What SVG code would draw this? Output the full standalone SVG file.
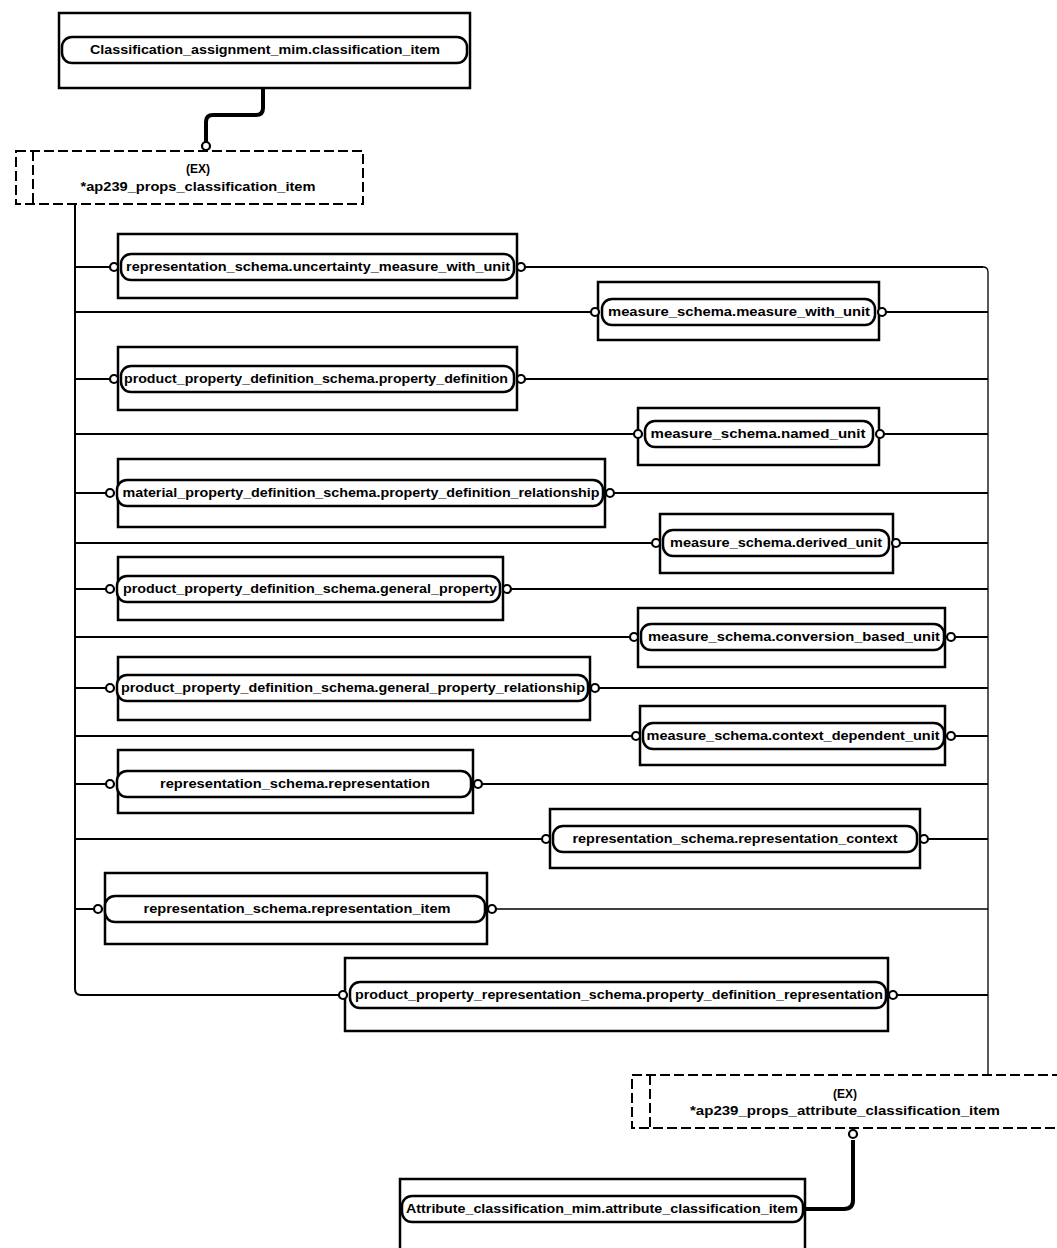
<svg xmlns="http://www.w3.org/2000/svg" width="1057" height="1248" viewBox="0 0 1057 1248">
<style>
.box{fill:none;stroke:#000;stroke-width:2.5}
.pill{fill:#fff;stroke:#000;stroke-width:2.5}
.ext{fill:#fff;stroke:#000;stroke-width:2;stroke-dasharray:10 4}
.t{font-family:"Liberation Sans",Arial,sans-serif;font-weight:bold;font-size:12px;fill:#000}
.c{fill:none;stroke:#000;stroke-width:2}
.thin{fill:none;stroke:#000;stroke-width:1.3}
.thick{fill:none;stroke:#000;stroke-width:4}
.end{fill:#fff;stroke:#000;stroke-width:2.2}
</style>
<rect width="1057" height="1248" fill="#fff"/>
<g id="connectors">
<path class="thick" d="M263 88 V108 Q263 115 256 115 H213 Q206 115 206 122 V142"/>
<path class="c" d="M75 204 V989 Q75 995 81 995 H344"/>
<path class="thin" d="M988 1075 V272 Q988 267 983 267"/>
<path class="c" d="M526 267 H983"/>
<path class="c" d="M75 312 H590"/><path class="c" d="M887 312 H988"/>
<path class="c" d="M75 379 H109"/><path class="c" d="M526 379 H988"/>
<path class="c" d="M75 434 H633"/><path class="c" d="M885 434 H988"/>
<path class="c" d="M75 493 H105"/><path class="c" d="M615 493 H988"/>
<path class="c" d="M75 543 H651"/><path class="c" d="M901 543 H988"/>
<path class="c" d="M75 589 H105"/><path class="c" d="M512 589 H988"/>
<path class="c" d="M75 637 H629"/><path class="c" d="M956 637 H988"/>
<path class="c" d="M75 688 H105"/><path class="c" d="M600 688 H988"/>
<path class="c" d="M75 736 H631"/><path class="c" d="M956 736 H988"/>
<path class="c" d="M75 784 H105"/><path class="c" d="M483 784 H988"/>
<path class="c" d="M75 839 H541"/><path class="c" d="M929 839 H988"/>
<path class="c" d="M75 909 H93"/><path class="thin" d="M497 909 H988"/>
<path class="c" d="M898 995 H988"/>
<path class="c" d="M75 267 H109"/>
<path class="thick" d="M853 1140 V1200 Q853 1209 844 1209 H806"/>
<circle class="end" cx="206" cy="146" r="4"/>
<circle class="end" cx="853" cy="1134" r="4"/>
</g>
<g id="n_classification_item">
<rect class="box" x="59" y="13" width="411" height="75"/>
<rect class="pill" x="62" y="37" width="405" height="26" rx="10"/>
<text class="t" x="265" y="54" text-anchor="middle" textLength="350" lengthAdjust="spacingAndGlyphs">Classification_assignment_mim.classification_item</text>
</g>
<g id="n_ext1">
<rect class="ext" x="16" y="151" width="347" height="53"/>
<line class="ext" x1="33" y1="151" x2="33" y2="204"/>
<text class="t" x="198" y="173" text-anchor="middle">(EX)</text>
<text class="t" x="198" y="191" text-anchor="middle" textLength="235" lengthAdjust="spacingAndGlyphs">*ap239_props_classification_item</text>
</g>
<g id="n1">
<rect class="box" x="118" y="234" width="399" height="64"/>
<rect class="pill" x="121" y="254" width="393" height="26" rx="10"/>
<circle class="end" cx="114" cy="267" r="4"/><circle class="end" cx="521" cy="267" r="4"/>
<text class="t" x="318" y="271" text-anchor="middle" textLength="384" lengthAdjust="spacingAndGlyphs">representation_schema.uncertainty_measure_with_unit</text>
</g>
<g id="n2">
<rect class="box" x="598" y="282" width="281" height="58"/>
<rect class="pill" x="602" y="299" width="273" height="26" rx="10"/>
<circle class="end" cx="595" cy="312" r="4"/><circle class="end" cx="882" cy="312" r="4"/>
<text class="t" x="739" y="316" text-anchor="middle" textLength="262" lengthAdjust="spacingAndGlyphs">measure_schema.measure_with_unit</text>
</g>
<g id="n3">
<rect class="box" x="118" y="347" width="399" height="63"/>
<rect class="pill" x="121" y="366" width="393" height="26" rx="10"/>
<circle class="end" cx="114" cy="379" r="4"/><circle class="end" cx="521" cy="379" r="4"/>
<text class="t" x="316" y="383" text-anchor="middle" textLength="384" lengthAdjust="spacingAndGlyphs">product_property_definition_schema.property_definition</text>
</g>
<g id="n4">
<rect class="box" x="638" y="408" width="241" height="57"/>
<rect class="pill" x="645" y="421" width="228" height="26" rx="10"/>
<circle class="end" cx="638" cy="434" r="4"/><circle class="end" cx="880" cy="434" r="4"/>
<text class="t" x="758" y="438" text-anchor="middle" textLength="215" lengthAdjust="spacingAndGlyphs">measure_schema.named_unit</text>
</g>
<g id="n5">
<rect class="box" x="118" y="459" width="487" height="68"/>
<rect class="pill" x="117" y="480" width="486" height="26" rx="10"/>
<circle class="end" cx="110" cy="493" r="4"/><circle class="end" cx="610" cy="493" r="4"/>
<text class="t" x="361" y="497" text-anchor="middle" textLength="477" lengthAdjust="spacingAndGlyphs">material_property_definition_schema.property_definition_relationship</text>
</g>
<g id="n6">
<rect class="box" x="660" y="514" width="233" height="59"/>
<rect class="pill" x="663" y="530" width="226" height="26" rx="10"/>
<circle class="end" cx="656" cy="543" r="4"/><circle class="end" cx="896" cy="543" r="4"/>
<text class="t" x="776" y="547" text-anchor="middle" textLength="212" lengthAdjust="spacingAndGlyphs">measure_schema.derived_unit</text>
</g>
<g id="n7">
<rect class="box" x="118" y="557" width="385" height="63"/>
<rect class="pill" x="117" y="576" width="383" height="26" rx="10"/>
<circle class="end" cx="110" cy="589" r="4"/><circle class="end" cx="507" cy="589" r="4"/>
<text class="t" x="310" y="593" text-anchor="middle" textLength="374" lengthAdjust="spacingAndGlyphs">product_property_definition_schema.general_property</text>
</g>
<g id="n8">
<rect class="box" x="638" y="608" width="307" height="59"/>
<rect class="pill" x="641" y="624" width="303" height="26" rx="10"/>
<circle class="end" cx="634" cy="637" r="4"/><circle class="end" cx="951" cy="637" r="4"/>
<text class="t" x="794" y="641" text-anchor="middle" textLength="292" lengthAdjust="spacingAndGlyphs">measure_schema.conversion_based_unit</text>
</g>
<g id="n9">
<rect class="box" x="118" y="657" width="472" height="63"/>
<rect class="pill" x="117" y="675" width="471" height="26" rx="10"/>
<circle class="end" cx="110" cy="688" r="4"/><circle class="end" cx="595" cy="688" r="4"/>
<text class="t" x="353" y="692" text-anchor="middle" textLength="464" lengthAdjust="spacingAndGlyphs">product_property_definition_schema.general_property_relationship</text>
</g>
<g id="n10">
<rect class="box" x="640" y="706" width="305" height="59"/>
<rect class="pill" x="643" y="723" width="301" height="26" rx="10"/>
<circle class="end" cx="636" cy="736" r="4"/><circle class="end" cx="951" cy="736" r="4"/>
<text class="t" x="793" y="740" text-anchor="middle" textLength="293" lengthAdjust="spacingAndGlyphs">measure_schema.context_dependent_unit</text>
</g>
<g id="n11">
<rect class="box" x="118" y="750" width="355" height="63"/>
<rect class="pill" x="117" y="771" width="354" height="26" rx="10"/>
<circle class="end" cx="110" cy="784" r="4"/><circle class="end" cx="478" cy="784" r="4"/>
<text class="t" x="295" y="788" text-anchor="middle" textLength="270" lengthAdjust="spacingAndGlyphs">representation_schema.representation</text>
</g>
<g id="n12">
<rect class="box" x="550" y="809" width="370" height="59"/>
<rect class="pill" x="553" y="826" width="364" height="26" rx="10"/>
<circle class="end" cx="546" cy="839" r="4"/><circle class="end" cx="924" cy="839" r="4"/>
<text class="t" x="735" y="843" text-anchor="middle" textLength="325" lengthAdjust="spacingAndGlyphs">representation_schema.representation_context</text>
</g>
<g id="n13">
<rect class="box" x="105" y="873" width="382" height="71"/>
<rect class="pill" x="105" y="896" width="380" height="26" rx="10"/>
<circle class="end" cx="98" cy="909" r="4"/><circle class="end" cx="492" cy="909" r="4"/>
<text class="t" x="297" y="913" text-anchor="middle" textLength="307" lengthAdjust="spacingAndGlyphs">representation_schema.representation_item</text>
</g>
<g id="n14">
<rect class="box" x="345" y="958" width="543" height="73"/>
<rect class="pill" x="350" y="982" width="536" height="26" rx="10"/>
<circle class="end" cx="343" cy="995" r="4"/><circle class="end" cx="893" cy="995" r="4"/>
<text class="t" x="619" y="999" text-anchor="middle" textLength="528" lengthAdjust="spacingAndGlyphs">product_property_representation_schema.property_definition_representation</text>
</g>
<g id="n_ext2">
<rect class="ext" x="632" y="1075" width="430" height="53"/>
<line class="ext" x1="650" y1="1075" x2="650" y2="1128"/>
<text class="t" x="845" y="1098" text-anchor="middle">(EX)</text>
<text class="t" x="845" y="1115" text-anchor="middle" textLength="310" lengthAdjust="spacingAndGlyphs">*ap239_props_attribute_classification_item</text>
</g>
<g id="n_attribute_classification_item">
<rect class="box" x="400" y="1179" width="405" height="80"/>
<rect class="pill" x="402" y="1196" width="401" height="26" rx="10"/>
<text class="t" x="602" y="1213" text-anchor="middle" textLength="392" lengthAdjust="spacingAndGlyphs">Attribute_classification_mim.attribute_classification_item</text>
</g>
</svg>
